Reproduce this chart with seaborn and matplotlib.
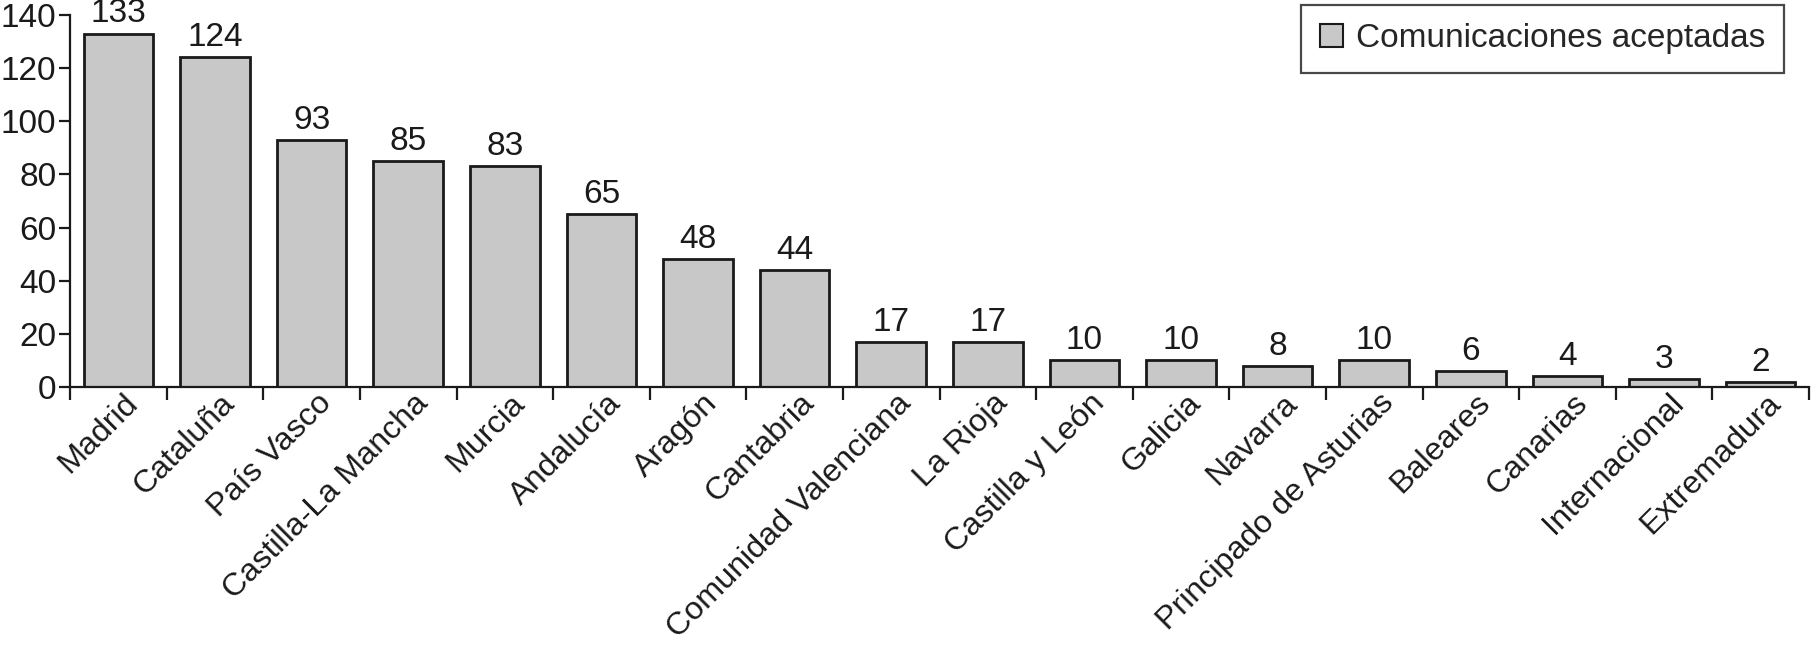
import matplotlib
matplotlib.use("Agg")
import matplotlib.pyplot as plt
import matplotlib.transforms as mtransforms
from matplotlib.ticker import FixedLocator
import seaborn as sns
import pandas as pd

categories = ["Madrid", "Cataluña", "País Vasco", "Castilla-La Mancha", "Murcia",
              "Andalucía", "Aragón", "Cantabria", "Comunidad Valenciana", "La Rioja",
              "Castilla y León", "Galicia", "Navarra", "Principado de Asturias",
              "Baleares", "Canarias", "Internacional", "Extremadura"]
values = [133, 124, 93, 85, 83, 65, 48, 44, 17, 17, 10, 10, 8, 10, 6, 4, 3, 2]
series_name = "Comunicaciones aceptadas"
yticks = [0, 20, 40, 60, 80, 100, 120, 140]

sns.set_theme(style="ticks")
plt.rcParams['font.family'] = ['Liberation Sans', 'DejaVu Sans']
plt.rcParams['font.size'] = 24

df = pd.DataFrame({"region": categories, "n": values})

fig = plt.figure(figsize=(18.11, 6.48), dpi=100)
ax = fig.add_axes([0.0387, 0.4028, 0.9602, 0.5741])

sns.barplot(data=df, x="region", y="n", color="#c8c8c8", edgecolor="#1a1a1a",
            linewidth=2, width=0.72, saturation=1, label=series_name, ax=ax)

ax.set_xlim(-0.5, len(categories) - 0.5)
ax.set_ylim(0, 140)
ax.set_yticks(yticks)
ax.set_xlabel("")
ax.set_ylabel("")

for s in ["top", "right"]:
    ax.spines[s].set_visible(False)
for s in ["left", "bottom"]:
    ax.spines[s].set_linewidth(1.6)
    ax.spines[s].set_color("#1a1a1a")

ax.tick_params(axis="y", direction="out", length=8, width=1.6, labelsize=24,
               colors="#1a1a1a", pad=2)
ax.set_xticks(range(len(categories)))
ax.set_xticklabels(categories, rotation=45, ha="right", va="center",
                   rotation_mode="anchor", fontsize=23.2, color="#1a1a1a")
ax.tick_params(axis="x", which="major", length=0, pad=8.5)
ax.xaxis.set_minor_locator(FixedLocator([i - 0.5 for i in range(len(categories) + 1)]))
ax.tick_params(axis="x", which="minor", direction="out", length=9, width=1.6,
               color="#1a1a1a")

offset = mtransforms.ScaledTranslation(11 / 72, 0, fig.dpi_scale_trans)
for lab in ax.get_xticklabels():
    lab.set_transform(lab.get_transform() + offset)

ax.bar_label(ax.containers[0], labels=[str(v) for v in values], padding=3,
             fontsize=24, color="#1a1a1a")

leg = ax.legend(loc="upper right", bbox_to_anchor=(0.9856, 1.027), frameon=True,
                fancybox=False, fontsize=24, handlelength=0.7, handleheight=0.7,
                handletextpad=0.4, borderpad=0.55, borderaxespad=0)
leg.get_frame().set_edgecolor("#1a1a1a")
leg.get_frame().set_linewidth(1.6)
for h in leg.legend_handles:
    h.set_linewidth(1.5)

fig.savefig("out.png", dpi=100)
